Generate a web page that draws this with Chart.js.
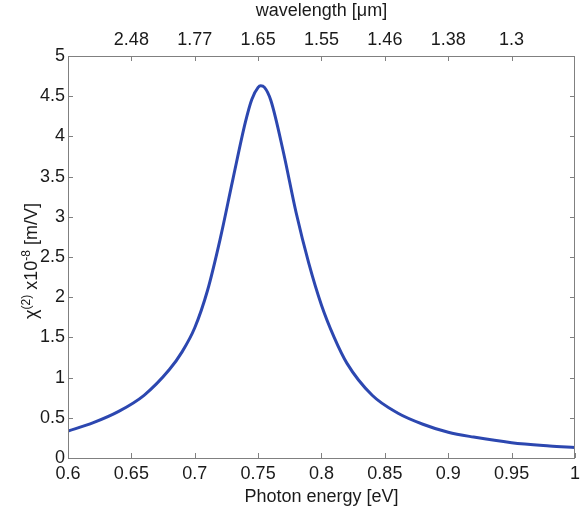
<!DOCTYPE html>
<html>
<head>
<meta charset="utf-8">
<script src="https://cdn.jsdelivr.net/npm/chart.js@4/dist/chart.umd.min.js"></script>
<style>
    html, body { margin: 0; padding: 0; background: #fff; }
    #wrap { width: 585px; height: 512px; }
</style>
</head>
<body>
<div id="wrap"><canvas id="chi2Chart" width="585" height="512"></canvas></div>
<script>
// chi(2) spectrum

// photon energy [eV]
const energy = [0.60, 0.62, 0.64, 0.66, 0.68, 0.69, 0.70, 0.71, 0.72, 0.73, 0.74, 0.745, 0.75, 0.752, 0.755,
    0.76, 0.77, 0.78, 0.79, 0.80, 0.81, 0.82, 0.84, 0.86, 0.88, 0.90, 0.92, 0.95, 0.98, 1.00];
// chi(2) x1e-8 [m/V]
const chi2 = [0.335, 0.44, 0.58, 0.78, 1.10, 1.32, 1.62, 2.08, 2.72, 3.46, 4.18, 4.46, 4.61, 4.63, 4.61,
    4.45, 3.80, 3.05, 2.42, 1.90, 1.50, 1.18, 0.78, 0.56, 0.42, 0.32, 0.26, 0.19, 0.15, 0.13];

const energyTicks = [0.6, 0.65, 0.7, 0.75, 0.8, 0.85, 0.9, 0.95, 1];
const chiTicks = [0, 0.5, 1, 1.5, 2, 2.5, 3, 3.5, 4, 4.5, 5];

// top axis: wavelength labels sitting at these energies
const wavelengthTickPos = [0.65, 0.7, 0.75, 0.8, 0.85, 0.9, 0.95];
const wavelengthLabels = ['2.48', '1.77', '1.65', '1.55', '1.46', '1.38', '1.3'];

const textColor = '#1a1a1a';
const frameColor = '#808080';
const fontFamily = '"Liberation Sans", Arial, sans-serif';

// box round the plot with inward ticks, matlab style
const frameTicks = {
    id: 'frameTicks',
    afterDatasetsDraw(chart) {
        const { ctx, chartArea: a, scales } = chart;
        const len = 5;
        ctx.save();
        ctx.strokeStyle = frameColor;
        ctx.lineWidth = 1;
        ctx.beginPath();
        energyTicks.forEach(v => {
            const x = Math.round(scales.x.getPixelForValue(v)) + 0.5;
            ctx.moveTo(x, a.bottom);
            ctx.lineTo(x, a.bottom - len);
        });
        wavelengthTickPos.forEach(v => {
            const x = Math.round(scales.x2.getPixelForValue(v)) + 0.5;
            ctx.moveTo(x, a.top);
            ctx.lineTo(x, a.top + len);
        });
        chiTicks.forEach(v => {
            const y = Math.round(scales.y.getPixelForValue(v)) + 0.5;
            ctx.moveTo(a.left, y);
            ctx.lineTo(a.left + len, y);
            ctx.moveTo(a.right, y);
            ctx.lineTo(a.right - len, y);
        });
        ctx.stroke();
        ctx.strokeRect(Math.round(a.left) + 0.5, Math.round(a.top) + 0.5,
            Math.round(a.right - a.left) - 1, Math.round(a.bottom - a.top));
        ctx.restore();
    }
};

// y title with real superscripts: chi^(2) x10^-8 [m/V]
const yTitle = {
    id: 'yTitle',
    afterDraw(chart) {
        const { ctx, chartArea: a } = chart;
        const parts = [
            { t: 'χ', size: 18, rise: 0 },
            { t: '(2)', size: 12, rise: 7 },
            { t: ' x10', size: 18, rise: 0 },
            { t: '-8', size: 12, rise: 7 },
            { t: ' [m/V]', size: 18, rise: 0 }
        ];
        ctx.save();
        let total = 0;
        parts.forEach(p => {
            ctx.font = p.size + 'px ' + fontFamily;
            p.w = ctx.measureText(p.t).width;
            total += p.w;
        });
        ctx.translate(37, (a.top + a.bottom) / 2 + 4);
        ctx.rotate(-Math.PI / 2);
        ctx.fillStyle = textColor;
        ctx.textBaseline = 'alphabetic';
        let x = -total / 2;
        parts.forEach(p => {
            ctx.font = p.size + 'px ' + fontFamily;
            ctx.fillText(p.t, x, -p.rise);
            x += p.w;
        });
        ctx.restore();
    }
};

const tickFont = { family: fontFamily, size: 18 };
const titleFont = { family: fontFamily, size: 18 };

new Chart(document.getElementById('chi2Chart'), {
    type: 'line',
    data: {
        datasets: [{
            data: energy.map((e, i) => ({ x: e, y: chi2[i] })),
            borderColor: '#2c47b0',
            borderWidth: 3,
            pointRadius: 0,
            cubicInterpolationMode: 'monotone',
            fill: false
        }]
    },
    options: {
        responsive: false,
        animation: false,
        devicePixelRatio: 1,
        layout: { padding: { left: 0, right: 7, top: 0, bottom: 0 } },
        plugins: {
            legend: { display: false },
            tooltip: { enabled: false }
        },
        scales: {
            x: {
                type: 'linear',
                position: 'bottom',
                min: 0.6,
                max: 1,
                afterFit(s) { s.height = 54; },
                afterBuildTicks(s) { s.ticks = energyTicks.map(v => ({ value: v })); },
                grid: { display: false, drawTicks: false },
                border: { display: false },
                ticks: {
                    color: textColor, font: tickFont, padding: 5,
                    maxRotation: 0, autoSkip: false,
                    callback: v => String(v)
                },
                title: {
                    display: true, text: 'Photon energy [eV]', color: textColor,
                    font: titleFont, padding: { top: 0, bottom: 4 }
                }
            },
            x2: {
                type: 'linear',
                position: 'top',
                min: 0.6,
                max: 1,
                afterFit(s) { s.height = 56; },
                afterBuildTicks(s) { s.ticks = wavelengthTickPos.map(v => ({ value: v })); },
                grid: { display: false, drawTicks: false },
                border: { display: false },
                ticks: {
                    color: textColor, font: tickFont, padding: 5,
                    maxRotation: 0, autoSkip: false,
                    callback: (v, i) => wavelengthLabels[i]
                },
                title: {
                    display: true, text: 'wavelength [μm]', color: textColor,
                    font: titleFont, padding: { top: 0, bottom: 0 }
                }
            },
            y: {
                type: 'linear',
                position: 'left',
                min: 0,
                max: 5,
                afterFit(s) { s.width = 68; },
                afterBuildTicks(s) { s.ticks = chiTicks.map(v => ({ value: v })); },
                grid: { display: false, drawTicks: false },
                border: { display: false },
                ticks: {
                    color: textColor, font: tickFont, padding: 3,
                    callback: v => String(v)
                },
                title: { display: false }
            }
        }
    },
    plugins: [frameTicks, yTitle]
});
</script>
</body>
</html>
